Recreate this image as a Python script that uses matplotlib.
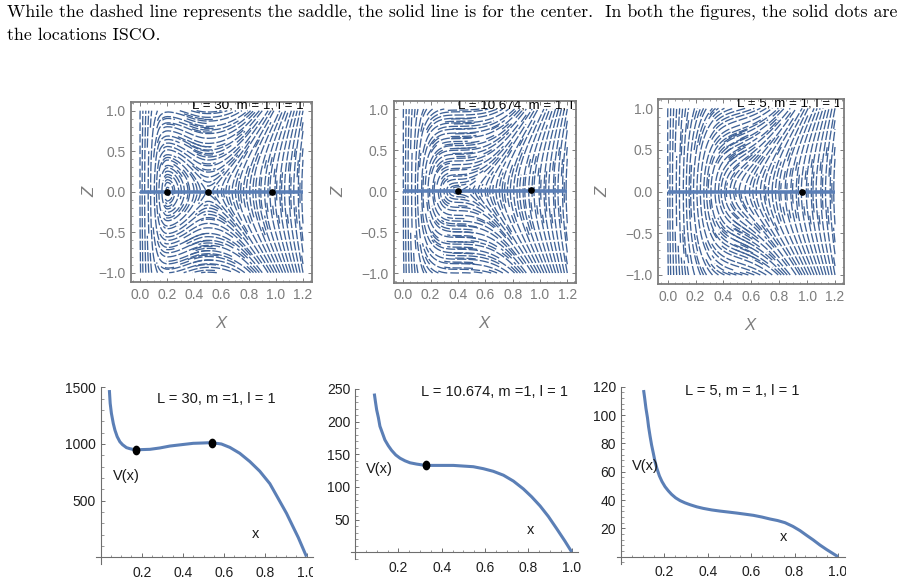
import numpy as np
import matplotlib
matplotlib.use("Agg")
import matplotlib.pyplot as plt
from matplotlib.markers import MarkerStyle
from matplotlib.ticker import MultipleLocator
from matplotlib.transforms import Affine2D, Bbox

W, H = 914, 582
plt.rcParams['font.family'] = ['Liberation Sans', 'DejaVu Sans']

BLUE = '#5b7fb6'
STREAM = '#3f6297'
GRAY = '#7d7d7d'

# phase portraits: vertical rate of the flow at each x column
flow_x = [0.0, 0.05, 0.1, 0.15, 0.2, 0.25, 0.3, 0.35, 0.4, 0.45, 0.5, 0.55, 0.6,
          0.65, 0.7, 0.75, 0.8, 0.85, 0.9, 0.95, 1.0, 1.05, 1.1, 1.15, 1.2]
flow_z = [-1.0, -0.8, -0.6, -0.4, -0.2, 0.0, 0.2, 0.4, 0.6, 0.8, 1.0]
rate_L30 = [120, 40, 8, 1.5, 0, -0.35, -0.5, -0.55, -0.45, -0.25, 0, 0.15, 0.35,
            0.55, 0.8, 1.1, 1.5, 1.8, 2.2, 2.7, 3.2, 4.0, 5, 6.5, 9]
rate_L10 = [120, 40, 10, 3.5, 1.5, 0.7, 0.25, 0.05, 0, 0.03, 0.1, 0.2, 0.35,
            0.55, 0.8, 1.1, 1.5, 1.8, 2.2, 2.7, 3.2, 4.0, 5, 6.5, 9]
rate_L5 = [120, 40, 20, 9, 5.5, 3.5, 2.2, 1.3, 0.8, 0.55, 0.45, 0.5, 0.6,
           0.8, 1.0, 1.3, 1.6, 1.9, 2.3, 2.8, 3.3, 4.0, 5, 6.5, 9]

# extra lines where the flow bunches up into tight bands
band_x_L30 = [0.4, 0.42, 0.44, 0.46, 0.42, 0.44, 0.46, 0.4, 0.44, 0.46, 0.44, 0.42, 0.46, 0.48, 0.5, 0.48]
band_z_L30 = [0.92, 0.86, 0.8, 0.74, 0.58, 0.52, 0.46, -0.56, -0.62, -0.68, -0.74, -0.8, -0.85, -0.9, -0.78, -0.7]
band_x_L10 = [0.43, 0.45, 0.44, 0.46, 0.43, 0.45, 0.42, 0.44, 0.46, 0.43, 0.45, 0.44, 0.46, 0.43, 0.45, 0.44]
band_z_L10 = [0.88, 0.82, 0.76, 0.7, 0.64, 0.58, 0.52, 0.46, -0.42, -0.5, -0.56, -0.62, -0.7, -0.76, -0.82, -0.88]
band_x_L5 = [0.47, 0.49, 0.48, 0.5, 0.49, 0.51, 0.53, 0.54, 0.52, 0.53, 0.54, 0.55]
band_z_L5 = [0.66, 0.6, 0.54, 0.48, 0.43, 0.7, -0.42, -0.5, -0.56, -0.62, -0.68, -0.74]

portrait_titles = ['L = 30, m = 1, l = 1', 'L = 10.674, m = 1, l = 1', 'L = 5, m = 1, l = 1']
dots_x_L30, dots_z_L30 = [0.2, 0.5, 0.97], [0, 0, 0]
dots_x_L10, dots_z_L10 = [0.4, 0.935], [0, 0.01]
dots_x_L5, dots_z_L5 = [0.96], [0]

# potential curves
curve_x_L30 = [0.043, 0.047, 0.053, 0.062, 0.07, 0.081, 0.094, 0.107, 0.126, 0.142, 0.171,
               0.19, 0.24, 0.288, 0.337, 0.393, 0.45, 0.498, 0.539, 0.587, 0.628, 0.676,
               0.725, 0.773, 0.822, 0.862, 0.903, 0.935, 0.96, 1.0]
curve_v_L30 = [1476, 1359, 1270, 1182, 1123, 1065, 1020, 994, 968, 959, 947,
               950, 953, 965, 982, 994, 1006, 1009, 1012, 1000, 970, 918,
               845, 760, 650, 521, 388, 268, 175, 6]
isco_x_L30, isco_v_L30 = [0.17, 0.54], [950, 1012]

curve_x_L10 = [0.089, 0.095, 0.1, 0.108, 0.115, 0.126, 0.138, 0.154, 0.169, 0.188, 0.208,
               0.231, 0.254, 0.285, 0.326, 0.369, 0.408, 0.454, 0.5, 0.546, 0.592, 0.638,
               0.685, 0.731, 0.777, 0.815, 0.854, 0.892, 0.931, 0.969, 1.0]
curve_v_L10 = [243, 229, 218, 206, 193, 183, 172, 163, 156, 149, 144,
               140, 137, 135, 133, 133, 133, 133, 132, 131, 128, 124,
               118, 109, 97, 85, 71, 55, 36, 17, 0.5]
isco_x_L10, isco_v_L10 = [0.326], [133]

curve_x_L5 = [0.104, 0.109, 0.115, 0.122, 0.127, 0.134, 0.141, 0.149, 0.157, 0.166, 0.177,
              0.189, 0.203, 0.218, 0.233, 0.252, 0.272, 0.295, 0.318, 0.349, 0.379, 0.418,
              0.456, 0.495, 0.533, 0.572, 0.61, 0.649, 0.687, 0.722, 0.756, 0.792, 0.825,
              0.856, 0.886, 0.917, 0.948, 0.975, 1.0]
curve_v_L5 = [117.6, 112, 104.7, 98, 91.8, 85, 78.8, 73, 67, 62, 57,
              53, 49.4, 46.5, 44, 41.5, 39.6, 38, 36.7, 35.2, 34.1, 33,
              32.2, 31.5, 30.8, 30, 29.2, 28, 26.6, 25.5, 24, 21.4, 18.4,
              15, 11.8, 8.2, 5, 2.4, 0]

curve_titles = ['L = 30, m =1, l = 1', 'L = 10.674, m =1, l = 1', 'L = 5, m = 1, l = 1']


def axes_px(left, right, top, bottom):
    return fig.add_axes([left / W, 1 - bottom / H, (right - left) / W, (bottom - top) / H])


def px_text(x, y, s, **kw):
    return fig.text(x / W, 1 - y / H, s, **kw)


def clip_px(artist, left, right):
    artist.set_clip_on(True)
    artist.set_clip_box(Bbox([[left, 0], [right, H]]))


def dashed_stream(ax, U, V, **kw):
    # redraw each trajectory on its own so the dash pattern runs along it
    strm = ax.streamplot(np.array(flow_x), np.array(flow_z), U, V, color=STREAM,
                         linewidth=1, arrowstyle='-', integration_direction='both', **kw)
    segments = strm.lines.get_segments()
    strm.lines.remove()
    for p in list(ax.patches):
        p.remove()
    for line in segments:
        line = np.asarray(line)
        ax.plot(line[:, 0], line[:, 1], color=STREAM, lw=0.95, dashes=(7, 1.6),
                dash_capstyle='butt')


def portrait(frame, x_ticks_px, z_ticks_px, rate, band_x, band_z, dots_x, dots_z, title, title_px,
             clip_right, z_label_x):
    left, right, top, bottom = frame
    ax = axes_px(left, right, top, bottom)
    sx = (x_ticks_px[1] - x_ticks_px[0]) / 1.2
    sz = (z_ticks_px[0] - z_ticks_px[1]) / 2.0
    xlim = ((left - x_ticks_px[0]) / sx, (right - x_ticks_px[0]) / sx)
    zlim = ((z_ticks_px[0] - bottom) / sz - 1, (z_ticks_px[0] - top) / sz - 1)

    X, Z = np.meshgrid(flow_x, flow_z)
    U = Z
    V = np.tile(rate, (len(flow_z), 1)).astype(float)
    dashed_stream(ax, U, V, density=1.9, minlength=0.05)
    dashed_stream(ax, U, V, start_points=np.column_stack([band_x, band_z]),
                  broken_streamlines=False, maxlength=0.18, minlength=0.01)

    ax.plot([0, 1.2], [0, 0], color=BLUE, lw=2.6, solid_capstyle='butt', zorder=4)
    ax.plot(dots_x, dots_z, 'o', color='black', ms=3.8, zorder=5)

    ax.set_xlim(xlim)
    ax.set_ylim(zlim)
    ax.set_xticks([0, 0.2, 0.4, 0.6, 0.8, 1.0, 1.2])
    ax.set_yticks([-1, -0.5, 0, 0.5, 1])
    ax.set_yticklabels(['\u22121.0', '\u22120.5', '0.0', '0.5', '1.0'])
    ax.xaxis.set_minor_locator(MultipleLocator(0.05))
    ax.yaxis.set_minor_locator(MultipleLocator(0.1))
    ax.tick_params(which='major', direction='in', length=3.2, width=0.7, color=GRAY,
                   labelcolor=GRAY, labelsize=10, top=True, right=True, pad=4)
    ax.tick_params(which='minor', direction='in', length=1.6, width=0.5, color=GRAY,
                   top=True, right=True)
    for s in ax.spines.values():
        s.set_color(GRAY)
        s.set_linewidth(1.3)

    t = px_text(title_px[0], title_px[1], title, fontsize=9.6, color='black',
                ha='left', va='center')
    t.set_clip_on(True)
    t.set_clip_box(Bbox([[left, H - bottom], [clip_right, H - top]]))

    px_text((left + right) / 2 - 1, bottom + 41, 'X', fontsize=12, color=GRAY,
            style='italic', ha='center', va='center')
    px_text(z_label_x, (top + bottom) / 2, 'Z', fontsize=12, color=GRAY, style='italic',
            rotation=90, ha='center', va='center')
    return ax


def potential(x0, x_unit, y0, y_unit, y_top, curve_x, curve_v, isco_x, isco_v, y_major, y_minor,
              title, title_px, v_px, x_px, clip_left, clip_right):
    left = x0 - 0.02 * x_unit
    right = x0 + 1.03 * x_unit
    ymin = -7 / y_unit
    top = y0 - y_top * y_unit
    ax = axes_px(left, right, top, y0 + 7)
    ax.set_xlim(-0.02, 1.03)
    ax.set_ylim(ymin, y_top)
    ax.plot(curve_x, curve_v, color=BLUE, lw=2.2, solid_joinstyle='round',
            solid_capstyle='butt', clip_on=False)
    if isco_x:
        marker = MarkerStyle('o', transform=Affine2D().scale(1, 1.3))
        ax.plot(isco_x, isco_v, linestyle='none', marker=marker, color='black', ms=4.6,
                clip_on=False, zorder=5)

    ax.spines['top'].set_visible(False)
    ax.spines['right'].set_visible(False)
    ax.spines['left'].set_position(('data', 0))
    ax.spines['bottom'].set_position(('data', 0))
    for name in ('left', 'bottom'):
        ax.spines[name].set_color('#6e6e6e')
        ax.spines[name].set_linewidth(0.8)
    ax.patch.set_alpha(0)

    ax.set_xticks([0.2, 0.4, 0.6, 0.8, 1.0])
    ax.set_xticklabels(['0.2', '0.4', '0.6', '0.8', '1.0'])
    ax.set_yticks(np.arange(y_major, y_top + 1, y_major))
    ax.xaxis.set_minor_locator(MultipleLocator(0.05))
    ax.yaxis.set_minor_locator(MultipleLocator(y_minor))
    ax.tick_params(which='major', direction='in', length=3.2, width=0.7, color='#6e6e6e',
                   labelcolor='#1f1f1f', labelsize=10)
    ax.tick_params(axis='x', which='major', pad=6)
    ax.tick_params(axis='y', which='major', pad=3.5)
    ax.tick_params(which='minor', direction='in', length=1.8, width=0.5, color='#6e6e6e')

    fig.canvas.draw()
    for lbl in ax.get_xticklabels() + ax.get_yticklabels():
        clip_px(lbl, clip_left, clip_right)

    px_text(title_px[0], title_px[1], title, fontsize=10.5, color='#1a1a1a', ha='center', va='center')
    px_text(v_px[0], v_px[1], 'V(x)', fontsize=10.5, color='#1a1a1a', ha='center', va='center')
    px_text(x_px[0], x_px[1], 'x', fontsize=10.5, color='#1a1a1a', ha='center', va='center')
    return ax


fig = plt.figure(figsize=(W / 100, H / 100), dpi=100, facecolor='white')

px_text(7, 13, 'While the dashed line represents the saddle, the solid line is for the center.  '
        'In both the figures, the solid dots are', family='cmr10', fontsize=12.85,
        ha='left', va='center', color='black')
px_text(7, 35, 'the locations ISCO.', family='cmr10', fontsize=12.85,
        ha='left', va='center', color='black')

portrait((131, 312, 102, 282), (140, 303), (272.7, 110.7), rate_L30, band_x_L30, band_z_L30,
         dots_x_L30, dots_z_L30, portrait_titles[0], (192, 105), 312, 90)
portrait((393.7, 576, 100.7, 282.7), (403.3, 567.3), (273, 109), rate_L10, band_x_L10, band_z_L10,
         dots_x_L10, dots_z_L10, portrait_titles[1], (458, 105), 576, 339)
portrait((658.3, 844, 99.3, 284), (667.7, 835), (275, 108.3), rate_L5, band_x_L5, band_z_L5,
         dots_x_L5, dots_z_L5, portrait_titles[2], (737, 104), 839, 603)

potential(100.5, 206, 557.3, 0.1133, 1500, curve_x_L30, curve_v_L30, isco_x_L30, isco_v_L30, 500, 100,
          curve_titles[0], (216, 399), (126, 476), (256, 534), 66, 313)
potential(355, 216.7, 552.3, 0.6533, 250, curve_x_L10, curve_v_L10, isco_x_L10, isco_v_L10, 50, 10,
          curve_titles[1], (494, 392), (379, 469), (531, 530), 327.5, 600)
potential(621, 217, 556.7, 1.417, 120, curve_x_L5, curve_v_L5, [], [], 20, 4,
          curve_titles[2], (742, 391), (645, 466), (784, 537), 590, 846)

fig.savefig('out.png', dpi=100)
